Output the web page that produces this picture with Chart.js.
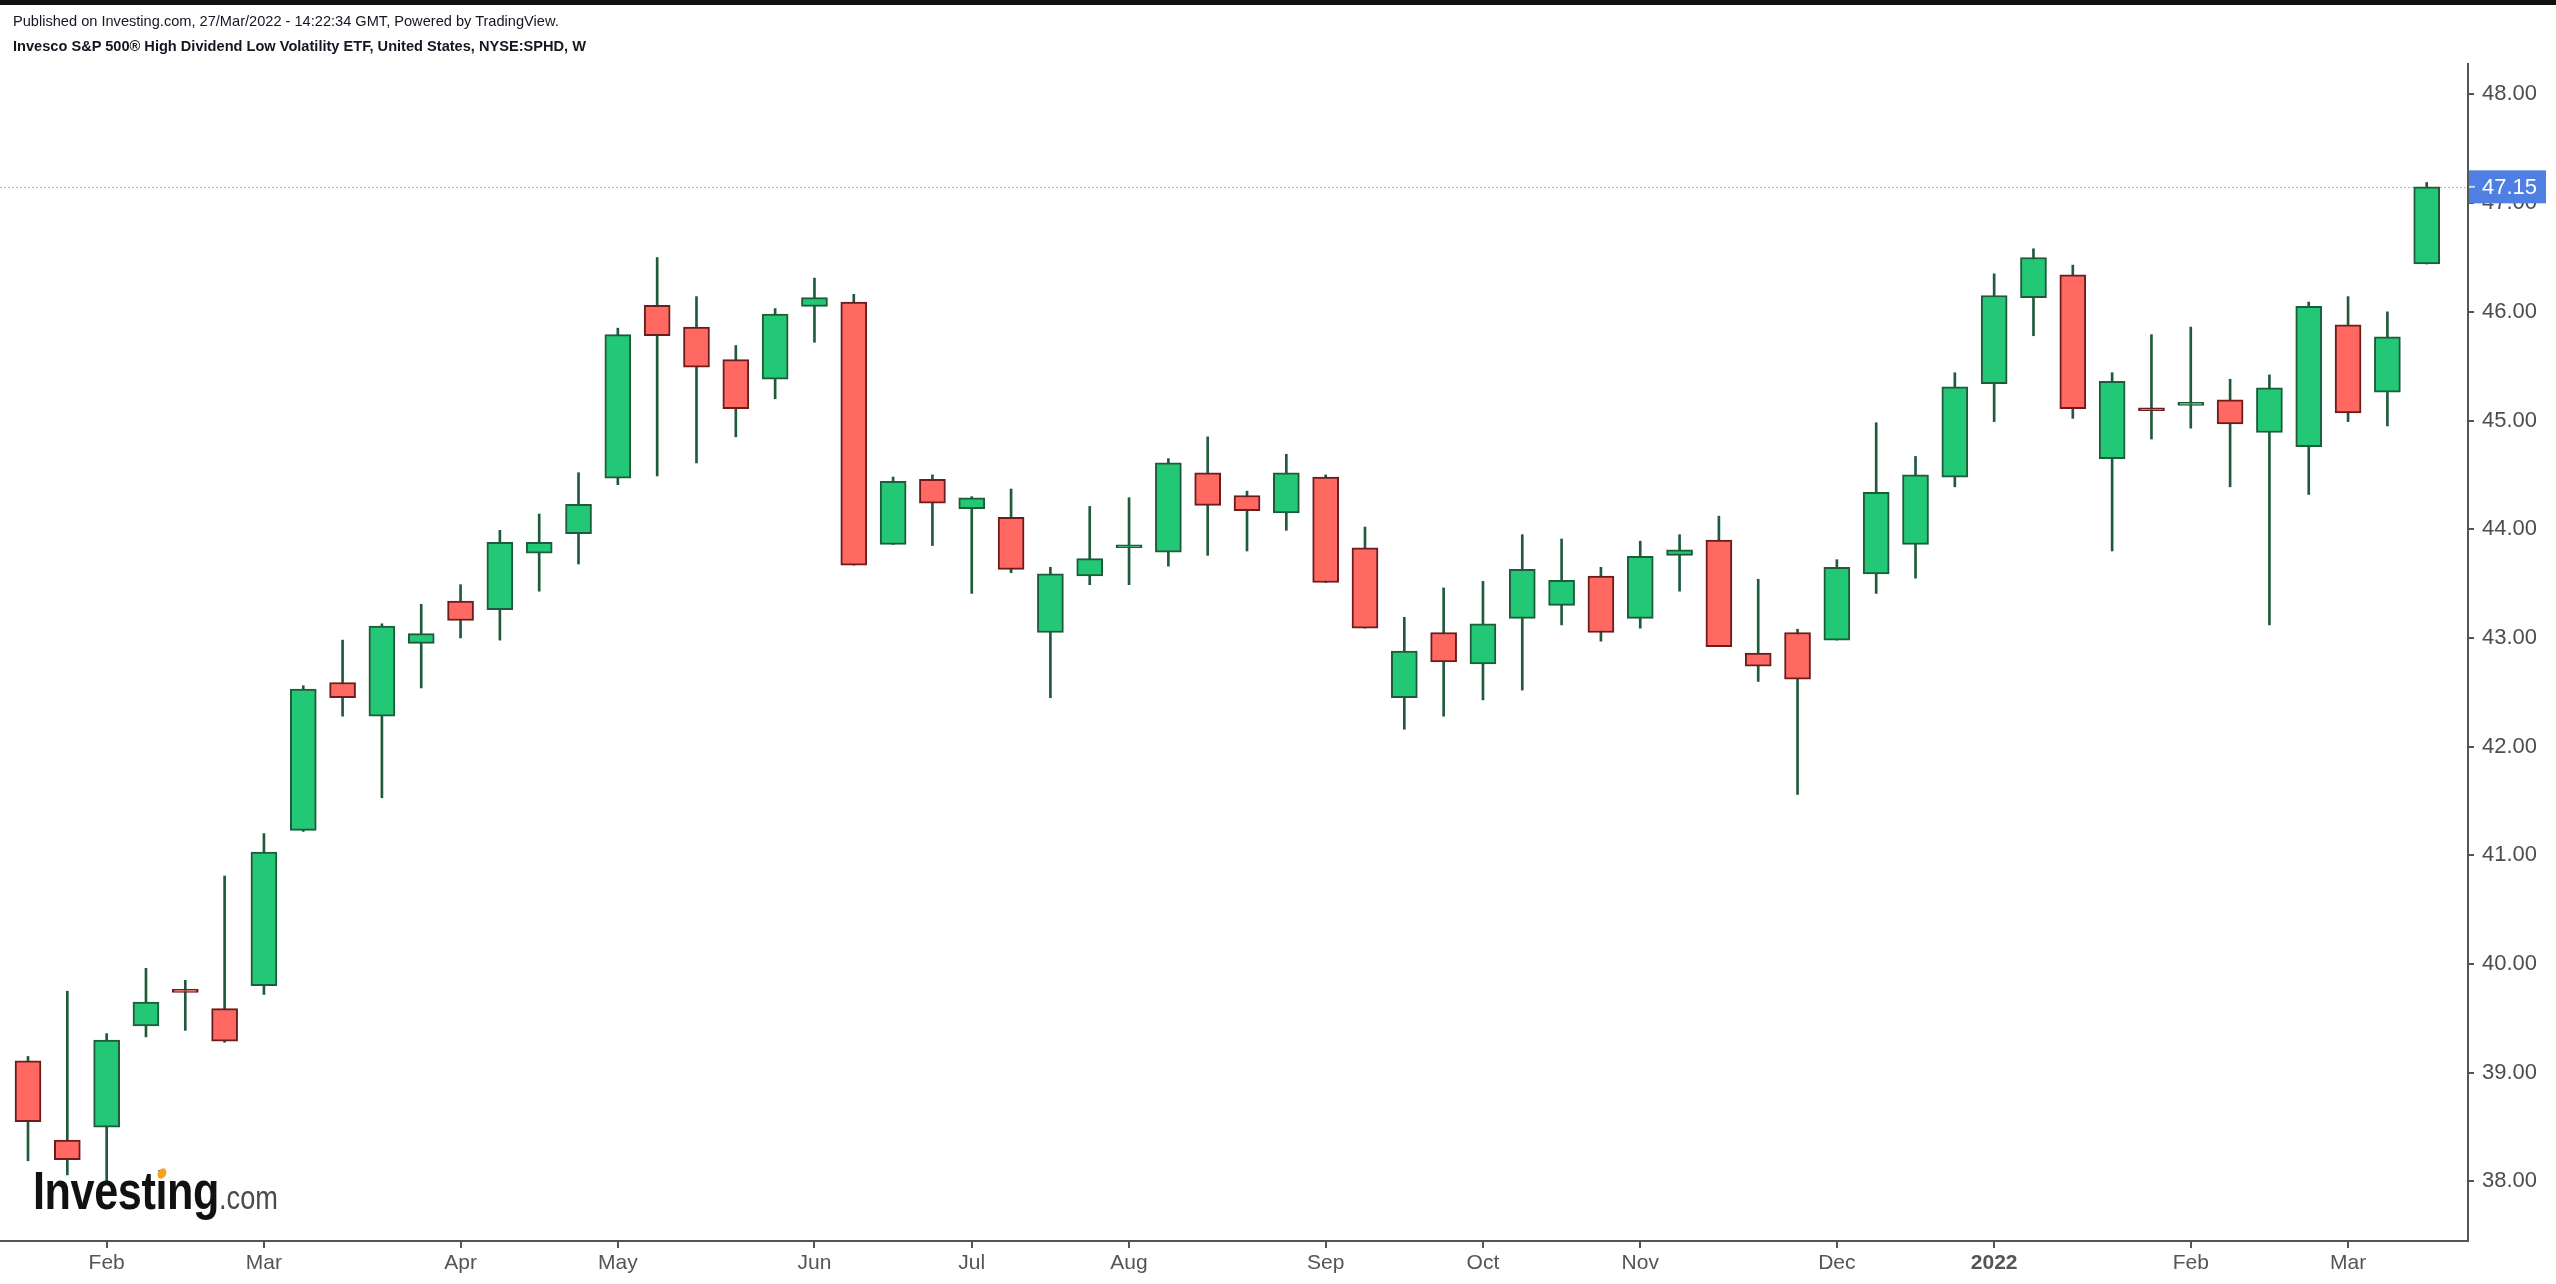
<!DOCTYPE html>
<html>
<head>
<meta charset="utf-8">
<title>SPHD weekly</title>
<script src="https://cdn.jsdelivr.net/npm/chart.js@4.4.1/dist/chart.umd.min.js"></script>
<style>
    body { margin: 0; background: #fff; }
    #wrap { position: relative; width: 2556px; height: 1284px; overflow: hidden; }
    #topbar { position: absolute; left: 0; top: 0; width: 2556px; height: 5px; background: #111; }
    .hdr { position: absolute; left: 13px; font-family: "Liberation Sans", Arial, sans-serif; font-size: 14.6px; line-height: 15px; color: #131722; white-space: nowrap; }
    #logo { position: absolute; left: 33px; top: 1163px; font-family: "Liberation Sans", Arial, sans-serif; line-height: 54px; white-space: nowrap; transform: scaleX(0.8); transform-origin: left top; }
    #logo .big { font-size: 54px; font-weight: bold; letter-spacing: -0.5px; color: #111; }
    #logo .com { font-size: 34px; color: #4a4a4a; }
    #flame { position: absolute; left: 158px; top: 1168px; width: 8px; height: 11px; background: #f7a21b; border-radius: 50%; transform: rotate(30deg); }
</style>
</head>
<body>
<div id="wrap">
    <canvas id="chart" width="2556" height="1284"></canvas>
    <div id="topbar"></div>
    <div class="hdr" style="top:14px;">Published on Investing.com, 27/Mar/2022 - 14:22:34 GMT, Powered by TradingView.</div>
    <div class="hdr" style="top:39px;font-weight:bold;">Invesco S&amp;P 500® High Dividend Low Volatility ETF, United States, NYSE:SPHD, W</div>
    <div id="logo"><span class="big">Investing</span><span class="com">.com</span></div>
    <div id="flame"></div>
</div>
<script>
// weekly bars, week of 18 Jan 2021 .. week of 21 Mar 2022 (index = week number)
const opens  = [39.11, 38.38, 38.50, 39.43, 39.75, 39.59, 39.80, 41.23, 42.59, 42.28,
                42.95, 43.34, 43.26, 43.78, 43.96, 44.47, 46.06, 45.86, 45.56, 45.38,
                46.05, 46.09, 43.86, 44.46, 44.19, 44.11, 43.05, 43.57, 43.83, 43.79,
                44.52, 44.31, 44.15, 44.48, 43.83, 42.45, 43.05, 42.76, 43.18, 43.30,
                43.57, 43.18, 43.76, 43.90, 42.86, 43.05, 42.98, 43.59, 43.86, 44.48,
                45.34, 46.13, 46.34, 44.65, 45.10, 45.14, 45.19, 44.89, 44.76, 45.88,
                45.26, 46.44];
const highs  = [39.15, 39.75, 39.36, 39.96, 39.85, 40.81, 41.20, 42.56, 42.98, 43.13,
                43.31, 43.49, 43.99, 44.14, 44.52, 45.85, 46.50, 46.14, 45.69, 46.03,
                46.31, 46.16, 44.48, 44.50, 44.30, 44.37, 43.65, 44.21, 44.29, 44.65,
                44.85, 44.35, 44.69, 44.50, 44.02, 43.19, 43.46, 43.52, 43.95, 43.91,
                43.65, 43.89, 43.95, 44.12, 43.54, 43.08, 43.72, 44.98, 44.67, 45.44,
                46.35, 46.58, 46.43, 45.44, 45.79, 45.86, 45.38, 45.42, 46.09, 46.14,
                46.00, 47.19];
const lows   = [38.19, 38.06, 37.98, 39.33, 39.39, 39.28, 39.72, 41.22, 42.28, 41.53,
                42.54, 43.00, 42.98, 43.43, 43.68, 44.41, 44.49, 44.61, 44.85, 45.20,
                45.72, 43.67, 43.86, 43.85, 43.41, 43.60, 42.45, 43.49, 43.49, 43.66,
                43.76, 43.80, 43.99, 43.51, 43.09, 42.16, 42.28, 42.43, 42.52, 43.12,
                42.97, 43.09, 43.43, 42.92, 42.60, 41.56, 42.98, 43.41, 43.55, 44.39,
                44.99, 45.78, 45.02, 43.80, 44.83, 44.93, 44.39, 43.12, 44.32, 44.99,
                44.95, 46.44];
const closes = [38.55, 38.20, 39.30, 39.65, 39.74, 39.29, 41.03, 42.53, 42.45, 43.11,
                43.04, 43.16, 43.88, 43.88, 44.23, 45.79, 45.78, 45.49, 45.11, 45.98,
                46.13, 43.67, 44.44, 44.24, 44.29, 43.63, 43.59, 43.73, 43.84, 44.61,
                44.22, 44.17, 44.52, 43.51, 43.09, 42.88, 42.78, 43.13, 43.63, 43.53,
                43.05, 43.75, 43.81, 42.92, 42.74, 42.62, 43.65, 44.34, 44.50, 45.31,
                46.15, 46.50, 45.11, 45.36, 45.09, 45.15, 44.97, 45.30, 46.05, 45.07,
                45.77, 47.15];

// first weekly bar of each month and its label
const monthIdx    = [2, 6, 11, 15, 20, 24, 28, 33, 37, 41, 46, 50, 55, 59];
const monthLabels = ['Feb', 'Mar', 'Apr', 'May', 'Jun', 'Jul', 'Aug', 'Sep', 'Oct', 'Nov', 'Dec', '2022', 'Feb', 'Mar'];
const yTicks      = [38, 39, 40, 41, 42, 43, 44, 45, 46, 47, 48];

const UP_FILL = '#22c875', UP_LINE = '#1e5b3b';
const DN_FILL = '#ff6961', DN_LINE = '#6b1c1c';
const WICK = '#1f5a3b';
const FONT = '"Liberation Sans", Arial, sans-serif';

const isUp = closes.map((c, i) => c >= opens[i]);
const lastClose = closes[closes.length - 1];

// dotted last-price line + blue price tag on the axis
const priceLine = {
    id: 'priceLine',
    beforeDatasetsDraw(chart) {
        const ctx = chart.ctx;
        const area = chart.chartArea;
        const y = Math.round(chart.scales.y.getPixelForValue(lastClose)) + 0.5;
        ctx.save();
        ctx.strokeStyle = '#a9b2ee';
        ctx.lineWidth = 1;
        ctx.setLineDash([2, 2]);
        ctx.beginPath();
        ctx.moveTo(area.left, y);
        ctx.lineTo(area.right, y);
        ctx.stroke();
        ctx.restore();
    },
    afterDraw(chart) {
        const ctx = chart.ctx;
        const x0 = chart.chartArea.right + 1;
        const y = chart.scales.y.getPixelForValue(lastClose);
        ctx.save();
        ctx.fillStyle = '#4f7fe3';
        ctx.fillRect(x0, y - 16.5, 77, 33);
        ctx.strokeStyle = '#c9d6f7';
        ctx.lineWidth = 2;
        ctx.beginPath();
        ctx.moveTo(x0, y);
        ctx.lineTo(x0 + 6, y);
        ctx.stroke();
        ctx.fillStyle = '#ffffff';
        ctx.font = '22px ' + FONT;
        ctx.textBaseline = 'middle';
        ctx.fillText(lastClose.toFixed(2), x0 + 13, y + 1);
        ctx.restore();
    }
};

new Chart(document.getElementById('chart'), {
    type: 'bar',
    data: {
        datasets: [
            {
                label: 'body',
                data: opens.map((o, i) => ({ x: i, y: [o, closes[i]] })),
                backgroundColor: isUp.map(u => u ? UP_FILL : DN_FILL),
                borderColor: isUp.map(u => u ? UP_LINE : DN_LINE),
                borderWidth: 2,
                borderSkipped: false,
                barThickness: 26,
                minBarLength: 3,
                grouped: false,
                order: 0
            },
            {
                label: 'wick',
                data: lows.map((l, i) => ({ x: i, y: [l, highs[i]] })),
                backgroundColor: WICK,
                borderWidth: 0,
                barThickness: 2,
                grouped: false,
                order: 1
            }
        ]
    },
    options: {
        responsive: false,
        animation: false,
        devicePixelRatio: 1,
        layout: { padding: { top: 64, left: 0, right: 0, bottom: 0 } },
        plugins: {
            legend: { display: false },
            tooltip: { enabled: false }
        },
        scales: {
            x: {
                type: 'linear',
                min: -0.712,
                max: 62.05,
                offset: false,
                border: { display: true, color: '#555', width: 2 },
                grid: { display: true, offset: false, drawOnChartArea: false, drawTicks: true, tickLength: 7, color: '#555', lineWidth: 2 },
                ticks: {
                    autoSkip: false,
                    maxRotation: 0,
                    padding: 3,
                    color: '#555',
                    font: ctx => ({ family: FONT, size: 21, weight: (ctx.tick && ctx.tick.value === 50) ? 'bold' : 'normal' }),
                    callback: v => monthLabels[monthIdx.indexOf(v)]
                },
                afterBuildTicks: scale => { scale.ticks = monthIdx.map(v => ({ value: v })); },
                afterFit: scale => { scale.height = 43; }
            },
            y: {
                position: 'right',
                min: 37.452,
                max: 48.28,
                border: { display: true, color: '#555', width: 2 },
                grid: { display: true, drawOnChartArea: false, drawTicks: true, tickLength: 6, color: '#555', lineWidth: 2 },
                ticks: {
                    padding: 8,
                    color: '#4d4d4d',
                    font: { family: FONT, size: 22 },
                    callback: v => v.toFixed(2)
                },
                afterBuildTicks: scale => { scale.ticks = yTicks.map(v => ({ value: v })); },
                afterFit: scale => { scale.width = 88; }
            }
        }
    },
    plugins: [priceLine]
});
</script>
</body>
</html>
